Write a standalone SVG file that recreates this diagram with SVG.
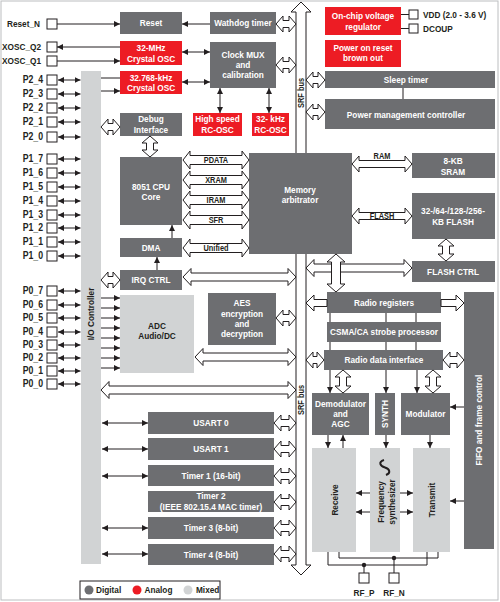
<svg xmlns="http://www.w3.org/2000/svg" width="500" height="602" viewBox="0 0 500 602">
<style>
text{font-family:"Liberation Sans",Arial,sans-serif;font-weight:bold;transform-box:fill-box;transform-origin:center;transform:scaleX(0.87)}
.w{fill:#fff;font-size:9.5px;text-anchor:middle}
.k{fill:#231f20;font-size:9.5px;text-anchor:middle}
.p{fill:#231f20;font-size:9.5px;text-anchor:end;transform-origin:right center}
.p2{font-size:10px}
.l{fill:#231f20;font-size:9.5px;text-anchor:start;transform-origin:left center}
.s{fill:#231f20;font-size:8.5px;text-anchor:middle}
.d{fill:#6d6e71}.r{fill:#ed1c24}.m{fill:#d1d3d4}
.ln{stroke:#231f20;stroke-width:1;fill:none}
.a{stroke:#231f20;stroke-width:1;fill:none;marker-end:url(#ah)}
.aa{stroke:#231f20;stroke-width:1;fill:none;marker-end:url(#ah);marker-start:url(#ah)}
.ha{fill:#fff;stroke:#231f20;stroke-width:1}
.pin{fill:#fff;stroke:#231f20;stroke-width:1}
</style>
<defs>
<marker id="ah" viewBox="0 0 10 10" refX="10" refY="5" markerWidth="6" markerHeight="6" markerUnits="userSpaceOnUse" orient="auto-start-reverse">
<path d="M0,0 L10,5 L0,10 Z" fill="#231f20"/>
</marker>
</defs>
<rect x="0" y="0" width="500" height="602" fill="#fff"/>
<rect x="1" y="1" width="497" height="599" fill="none" stroke="#bcbec0" stroke-width="1"/>

<g id="srf-bus">
<path class="ha" d="M301,2 L311,12 L306,12 L306,565 L311,565 L301,575 L291,565 L296,565 L296,12 L291,12 Z"/>
<g transform="translate(301,93) rotate(-90)"><text class="s" x="0" y="3">SRF bus</text></g>
<g transform="translate(301,400) rotate(-90)"><text class="s" x="0" y="3">SRF bus</text></g>
</g>

<g id="io-controller"><rect class="m" x="81" y="71" width="20" height="493"/><g transform="translate(91,314) rotate(-90)"><text class="k" x="0" y="3.4">I/O Controller</text></g></g>

<g id="pins">
<text class="p" x="40" y="27.5">Reset_N</text><rect class="pin" x="47" y="19" width="10" height="10"/>
<text class="p" x="41" y="50.5">XOSC_Q2</text><rect class="pin" x="47" y="42" width="10" height="10"/>
<text class="p" x="41" y="64.5">XOSC_Q1</text><rect class="pin" x="47" y="56" width="10" height="10"/>
<text class="p p2" x="43" y="83.5">P2_4</text><rect class="pin" x="47" y="75" width="10" height="10"/>
<text class="p p2" x="43" y="97.5">P2_3</text><rect class="pin" x="47" y="89" width="10" height="10"/>
<text class="p p2" x="43" y="111.5">P2_2</text><rect class="pin" x="47" y="103" width="10" height="10"/>
<text class="p p2" x="43" y="125.5">P2_1</text><rect class="pin" x="47" y="117" width="10" height="10"/>
<text class="p p2" x="43" y="140.5">P2_0</text><rect class="pin" x="47" y="132" width="10" height="10"/>
<text class="p p2" x="43" y="162.5">P1_7</text><rect class="pin" x="47" y="154" width="10" height="10"/>
<text class="p p2" x="43" y="176.5">P1_6</text><rect class="pin" x="47" y="168" width="10" height="10"/>
<text class="p p2" x="43" y="190.5">P1_5</text><rect class="pin" x="47" y="182" width="10" height="10"/>
<text class="p p2" x="43" y="204.5">P1_4</text><rect class="pin" x="47" y="196" width="10" height="10"/>
<text class="p p2" x="43" y="218.5">P1_3</text><rect class="pin" x="47" y="210" width="10" height="10"/>
<text class="p p2" x="43" y="231.5">P1_2</text><rect class="pin" x="47" y="223" width="10" height="10"/>
<text class="p p2" x="43" y="245.5">P1_1</text><rect class="pin" x="47" y="237" width="10" height="10"/>
<text class="p p2" x="43" y="259.5">P1_0</text><rect class="pin" x="47" y="251" width="10" height="10"/>
<text class="p p2" x="43" y="294.5">P0_7</text><rect class="pin" x="47" y="286" width="10" height="10"/>
<text class="p p2" x="43" y="308.5">P0_6</text><rect class="pin" x="47" y="300" width="10" height="10"/>
<text class="p p2" x="43" y="321.5">P0_5</text><rect class="pin" x="47" y="313" width="10" height="10"/>
<text class="p p2" x="43" y="335.5">P0_4</text><rect class="pin" x="47" y="327" width="10" height="10"/>
<text class="p p2" x="43" y="348.5">P0_3</text><rect class="pin" x="47" y="340" width="10" height="10"/>
<text class="p p2" x="43" y="361.5">P0_2</text><rect class="pin" x="47" y="353" width="10" height="10"/>
<text class="p p2" x="43" y="374.5">P0_1</text><rect class="pin" x="47" y="366" width="10" height="10"/>
<text class="p p2" x="43" y="387.5">P0_0</text><rect class="pin" x="47" y="379" width="10" height="10"/>
<rect class="pin" x="409" y="10" width="9" height="9"/><text class="l" x="423" y="18">VDD (2.0 - 3.6 V)</text>
<rect class="pin" x="409" y="24" width="9" height="9"/><text class="l" x="423" y="32">DCOUP</text>
<rect class="pin" x="359" y="573" width="10" height="10"/><text class="k" x="364" y="596">RF_P</text>
<rect class="pin" x="389" y="573" width="10" height="10"/><text class="k" x="394" y="596">RF_N</text>
</g>

<g id="reset"><rect class="d" x="120" y="12" width="62" height="22"/><text class="w" x="151" y="26.5">Reset</text></g>
<g id="watchdog"><rect class="d" x="210" y="12" width="66" height="22"/><text class="w" x="243" y="26.5">Wathdog timer</text></g>
<g id="xosc32m"><rect class="r" x="120" y="41" width="62" height="24"/><text class="w" x="151" y="51.5">32-MHz</text><text class="w" x="151" y="62">Crystal OSC</text></g>
<g id="xosc32k"><rect class="r" x="120" y="71" width="62" height="23"/><text class="w" x="151" y="80.9">32.768-kHz</text><text class="w" x="151" y="91.4">Crystal OSC</text></g>
<g id="clockmux"><rect class="d" x="210" y="42" width="66" height="46"/><text class="w" x="243" y="58.4">Clock MUX</text><text class="w" x="243" y="68.4">and</text><text class="w" x="243" y="78.4">calibration</text></g>
<g id="hsrc"><rect class="r" x="193" y="113" width="49" height="23"/><text class="w" x="217.5" y="122.4">High speed</text><text class="w" x="217.5" y="132.9">RC-OSC</text></g>
<g id="rc32k"><rect class="r" x="252" y="113" width="37" height="23"/><text class="w" x="270.5" y="122.4">32- kHz</text><text class="w" x="270.5" y="132.9">RC-OSC</text></g>
<g id="debug"><rect class="d" x="120" y="113" width="62" height="23"/><text class="w" x="151" y="122">Debug</text><text class="w" x="151" y="133">Interface</text></g>
<g id="vreg"><rect class="r" x="325" y="7" width="76" height="28"/><text class="w" x="363" y="19.4">On-chip voltage</text><text class="w" x="363" y="29.9">regulator</text></g>
<g id="por"><rect class="r" x="325" y="40" width="76" height="27"/><text class="w" x="363" y="51.4">Power on reset</text><text class="w" x="363" y="61.4">brown out</text></g>
<g id="sleep"><rect class="d" x="325" y="71" width="170" height="17"/><text class="w" x="406" y="83">Sleep timer</text></g>
<g id="pmc"><rect class="d" x="325" y="99" width="170" height="30"/><text class="w" x="406" y="118">Power management controller</text></g>
<g id="cpu"><rect class="d" x="120" y="157" width="62" height="68"/><text class="w" x="151" y="190.4">8051 CPU</text><text class="w" x="151" y="200.4">Core</text></g>
<g id="dma"><rect class="d" x="120" y="238" width="62" height="19"/><text class="w" x="151" y="251">DMA</text></g>
<g id="irq"><rect class="d" x="120" y="270" width="62" height="20"/><text class="w" x="151" y="283.4">IRQ CTRL</text></g>
<g id="memarb"><rect class="d" x="249" y="153" width="103" height="101"/><text class="w" x="300" y="193.4">Memory</text><text class="w" x="300" y="203.4">arbitrator</text></g>
<g id="sram"><rect class="d" x="412" y="153" width="83" height="25"/><text class="w" x="453" y="164.4">8-KB</text><text class="w" x="453" y="175">SRAM</text></g>
<g id="flash"><rect class="d" x="412" y="193" width="83" height="46"/><text class="w" x="453" y="214.4">32-/64-/128-/256-</text><text class="w" x="453" y="225">KB FLASH</text></g>
<g id="flashctrl"><rect class="d" x="412" y="261" width="83" height="21"/><text class="w" x="453" y="275">FLASH CTRL</text></g>
<g id="adc"><rect class="m" x="120" y="295" width="74" height="78"/><text class="k" x="157" y="329">ADC</text><text class="k" x="157" y="339.5">Audio/DC</text></g>
<g id="aes"><rect class="d" x="208" y="293" width="68" height="52"/><text class="w" x="242" y="306.4">AES</text><text class="w" x="242" y="316.6">encryption</text><text class="w" x="242" y="327">and</text><text class="w" x="242" y="337.2">decryption</text></g>
<g id="radioregs"><rect class="d" x="327" y="292" width="114" height="21"/><text class="w" x="384" y="306.2">Radio registers</text></g>
<g id="csma"><rect class="d" x="327" y="322" width="114" height="20"/><text class="w" x="384" y="335.4">CSMA/CA strobe processor</text></g>
<g id="rdi"><rect class="d" x="324" y="350" width="119" height="20"/><text class="w" x="384" y="363.4">Radio data interface</text></g>
<g id="demod"><rect class="d" x="312" y="393" width="57" height="42"/><text class="w" x="340.5" y="407.4">Demodulator</text><text class="w" x="340.5" y="417.4">and</text><text class="w" x="340.5" y="427.4">AGC</text></g>
<g id="synth"><rect class="d" x="375" y="393" width="20" height="42"/><g transform="translate(385,414) rotate(-90)"><text class="w" x="0" y="3.4">SYNTH</text></g></g>
<g id="modulator"><rect class="d" x="401" y="393" width="49" height="42"/><text class="w" x="425.5" y="417.4">Modulator</text></g>
<g id="fifo"><rect class="d" x="464" y="292" width="30" height="257"/><g transform="translate(479,420) rotate(-90)"><text class="w" x="0" y="3.4">FIFO and frame control</text></g></g>
<g id="receive"><rect class="m" x="312" y="448" width="44" height="104"/><g transform="translate(335,500) rotate(-90)"><text class="k" x="0" y="3.4">Receive</text></g></g>
<g id="freqsynth"><rect class="m" x="370" y="448" width="30" height="104"/><path d="M384,460 C378,462 380,466 385,467.5 C390,469 391,473 386,475" fill="none" stroke="#231f20" stroke-width="2"/><g transform="translate(381,502) rotate(-90)"><text class="k" x="0" y="3.4">Frequency</text></g><g transform="translate(392,502) rotate(-90)"><text class="k" x="0" y="3.4">synthesizer</text></g></g>
<g id="transmit"><rect class="m" x="413" y="448" width="37" height="104"/><g transform="translate(432,500) rotate(-90)"><text class="k" x="0" y="3.4">Transmit</text></g></g>
<g id="usart0"><rect class="d" x="148" y="412" width="126" height="22"/><text class="w" x="211" y="426.4">USART 0</text></g>
<g id="usart1"><rect class="d" x="148" y="438" width="126" height="22"/><text class="w" x="211" y="452.4">USART 1</text></g>
<g id="timer1"><rect class="d" x="148" y="465" width="126" height="21"/><text class="w" x="211" y="478.9">Timer 1 (16-bit)</text></g>
<g id="timer2"><rect class="d" x="148" y="491" width="126" height="21"/><text class="w" x="211" y="499.2">Timer 2</text><text class="w" x="211" y="509.6">(IEEE 802.15.4 MAC timer)</text></g>
<g id="timer3"><rect class="d" x="148" y="517" width="126" height="22"/><text class="w" x="211" y="531.4">Timer 3 (8-bit)</text></g>
<g id="timer4"><rect class="d" x="148" y="544" width="126" height="21"/><text class="w" x="211" y="557.9">Timer 4 (8-bit)</text></g>

<g id="connectors">
<line class="a" x1="57" y1="24" x2="120" y2="24"/>
<line class="a" x1="210" y1="24" x2="182" y2="24"/>
<line class="a" x1="120" y1="47" x2="57" y2="47"/>
<line class="a" x1="57" y1="61" x2="120" y2="61"/>
<line class="ln" x1="101" y1="78" x2="120" y2="78"/>
<line class="a" x1="101" y1="91" x2="120" y2="91"/>
<line class="aa" x1="182" y1="52" x2="210" y2="52"/>
<line class="aa" x1="182" y1="82" x2="210" y2="82"/>
<line class="aa" x1="220" y1="88" x2="220" y2="113"/>
<line class="aa" x1="269" y1="88" x2="269" y2="113"/>
<line class="ln" x1="401" y1="14.5" x2="409" y2="14.5"/>
<line class="ln" x1="401" y1="28.5" x2="409" y2="28.5"/>
<line class="ln" x1="403" y1="88" x2="403" y2="99"/>
<g>
<line class="aa" x1="58" y1="80" x2="80.5" y2="80"/>
<line class="aa" x1="58" y1="94" x2="80.5" y2="94"/>
<line class="aa" x1="58" y1="108" x2="80.5" y2="108"/>
<line class="aa" x1="58" y1="122" x2="80.5" y2="122"/>
<line class="aa" x1="58" y1="137" x2="80.5" y2="137"/>
<line class="aa" x1="58" y1="159" x2="80.5" y2="159"/>
<line class="aa" x1="58" y1="173" x2="80.5" y2="173"/>
<line class="aa" x1="58" y1="187" x2="80.5" y2="187"/>
<line class="aa" x1="58" y1="201" x2="80.5" y2="201"/>
<line class="aa" x1="58" y1="215" x2="80.5" y2="215"/>
<line class="aa" x1="58" y1="228" x2="80.5" y2="228"/>
<line class="aa" x1="58" y1="242" x2="80.5" y2="242"/>
<line class="aa" x1="58" y1="256" x2="80.5" y2="256"/>
<line class="aa" x1="58" y1="291" x2="80.5" y2="291"/>
<line class="aa" x1="58" y1="305" x2="80.5" y2="305"/>
<line class="aa" x1="58" y1="318" x2="80.5" y2="318"/>
<line class="aa" x1="58" y1="332" x2="80.5" y2="332"/>
<line class="aa" x1="58" y1="345" x2="80.5" y2="345"/>
<line class="aa" x1="58" y1="358" x2="80.5" y2="358"/>
<line class="aa" x1="58" y1="371" x2="80.5" y2="371"/>
<line class="aa" x1="58" y1="384" x2="80.5" y2="384"/>
</g>
<line class="a" x1="157" y1="270" x2="157" y2="257"/>
<line class="a" x1="172" y1="238" x2="172" y2="225"/>
<g>
<line class="a" x1="101" y1="298" x2="120" y2="298"/>
<line class="a" x1="101" y1="308" x2="120" y2="308"/>
<line class="a" x1="101" y1="318" x2="120" y2="318"/>
<line class="a" x1="101" y1="328" x2="120" y2="328"/>
<line class="a" x1="101" y1="338" x2="120" y2="338"/>
<line class="a" x1="101" y1="348" x2="120" y2="348"/>
<line class="a" x1="101" y1="358" x2="120" y2="358"/>
<line class="a" x1="101" y1="368" x2="120" y2="368"/>
</g>
<line class="aa" x1="102" y1="423" x2="148" y2="423"/>
<line class="aa" x1="102" y1="449" x2="148" y2="449"/>
<line class="aa" x1="102" y1="476" x2="148" y2="476"/>
<line class="aa" x1="102" y1="528" x2="148" y2="528"/>
<line class="aa" x1="102" y1="554" x2="148" y2="554"/>
<line class="ln" x1="330" y1="313" x2="330" y2="322"/>
<line class="ln" x1="386" y1="313" x2="386" y2="322"/>
<line class="ln" x1="416" y1="313" x2="416" y2="322"/>
<line class="ln" x1="330" y1="342" x2="330" y2="350"/>
<line class="ln" x1="386" y1="342" x2="386" y2="350"/>
<line class="ln" x1="416" y1="342" x2="416" y2="350"/>
<line class="a" x1="330" y1="370" x2="330" y2="393"/>
<line class="a" x1="386" y1="370" x2="386" y2="393"/>
<line class="a" x1="417" y1="370" x2="417" y2="393"/>
<line class="a" x1="464" y1="407" x2="450" y2="407"/>
<line class="a" x1="328" y1="435" x2="328" y2="448"/>
<line class="a" x1="343" y1="448" x2="343" y2="435"/>
<line class="a" x1="386" y1="435" x2="386" y2="448"/>
<line class="a" x1="430" y1="435" x2="430" y2="448"/>
<line class="a" x1="370" y1="493" x2="356" y2="493"/>
<line class="a" x1="370" y1="512" x2="356" y2="512"/>
<line class="a" x1="400" y1="493" x2="413" y2="493"/>
<line class="a" x1="400" y1="512" x2="413" y2="512"/>
<line class="a" x1="464" y1="501" x2="450" y2="501"/>
<path class="ln" d="M328,552 L328,565 L427,565 L427,552"/>
<path class="ln" d="M339,552 L339,558 L438,558 L438,552"/>
<line class="ln" x1="364" y1="565" x2="364" y2="573"/>
<line class="ln" x1="394" y1="558" x2="394" y2="573"/>
<circle cx="364" cy="565" r="2.2" fill="#231f20"/>
<circle cx="394" cy="558" r="2.2" fill="#231f20"/>

<path class="ha" d="M276,24 L283,16 L283,20.5 L289,20.5 L289,16 L296,24 L289,32 L289,27.5 L283,27.5 L283,32 Z"/>
<path class="ha" d="M276,65 L283,57 L283,61.5 L289,61.5 L289,57 L296,65 L289,73 L289,68.5 L283,68.5 L283,73 Z"/>
<path class="ha" d="M306,80 L313,72 L313,76.5 L318,76.5 L318,72 L325,80 L318,88 L318,83.5 L313,83.5 L313,88 Z"/>
<path class="ha" d="M306,112 L313,104 L313,108.5 L318,108.5 L318,104 L325,112 L318,120 L318,115.5 L313,115.5 L313,120 Z"/>
<path class="ha" d="M101,127 L108,119 L108,123.5 L113,123.5 L113,119 L120,127 L113,135 L113,130.5 L108,130.5 L108,135 Z"/>
<path class="ha" d="M101,280 L108,272 L108,276.5 L113,276.5 L113,272 L120,280 L113,288 L113,283.5 L108,283.5 L108,288 Z"/>
<path class="ha" d="M276,318 L283,310 L283,314.5 L289,314.5 L289,310 L296,318 L289,326 L289,321.5 L283,321.5 L283,326 Z"/>
<path class="ha" d="M306,360 L313,352 L313,356.5 L317,356.5 L317,352 L324,360 L317,368 L317,363.5 L313,363.5 L313,368 Z"/>
<path class="ha" d="M443,360 L450,352 L450,356.5 L457,356.5 L457,352 L464,360 L457,368 L457,363.5 L450,363.5 L450,368 Z"/>
<path class="ha" d="M274,423 L281,415 L281,419.5 L289,419.5 L289,415 L296,423 L289,431 L289,426.5 L281,426.5 L281,431 Z"/>
<path class="ha" d="M274,449 L281,441 L281,445.5 L289,445.5 L289,441 L296,449 L289,457 L289,452.5 L281,452.5 L281,457 Z"/>
<path class="ha" d="M274,476 L281,468 L281,472.5 L289,472.5 L289,468 L296,476 L289,484 L289,479.5 L281,479.5 L281,484 Z"/>
<path class="ha" d="M274,502 L281,494 L281,498.5 L289,498.5 L289,494 L296,502 L289,510 L289,505.5 L281,505.5 L281,510 Z"/>
<path class="ha" d="M274,528 L281,520 L281,524.5 L289,524.5 L289,520 L296,528 L289,536 L289,531.5 L281,531.5 L281,536 Z"/>
<path class="ha" d="M274,554 L281,546 L281,550.5 L289,550.5 L289,546 L296,554 L289,562 L289,557.5 L281,557.5 L281,562 Z"/>
<path class="ha" d="M183,277 L191,268.5 L191,273 L288,273 L288,268.5 L296,277 L288,285.5 L288,281 L191,281 L191,285.5 Z"/>
<path class="ha" d="M195,357 L203,348.5 L203,353 L288,353 L288,348.5 L296,357 L288,365.5 L288,361 L203,361 L203,365.5 Z"/>
<path class="ha" d="M101,390 L109,381.5 L109,386 L288,386 L288,381.5 L296,390 L288,398.5 L288,394 L109,394 L109,398.5 Z"/>
<path class="ha" d="M306,268 L314,259.5 L314,264 L404,264 L404,259.5 L412,268 L404,276.5 L404,272 L314,272 L314,276.5 Z"/>
<path class="ha" d="M306,303 L314,295 L314,299.5 L327,299.5 L327,306.5 L314,306.5 L314,311 Z"/>
<path class="ha" d="M441,299.5 L456,299.5 L456,295 L464,303 L456,311 L456,306.5 L441,306.5 Z"/>
<path class="ha" d="M150,136 L158,143 L153.5,143 L153.5,150 L158,150 L150,157 L142,150 L146.5,150 L146.5,143 L142,143 Z"/>
<path class="ha" d="M446,239 L454,246 L449.5,246 L449.5,254 L454,254 L446,261 L438,254 L442.5,254 L442.5,246 L438,246 Z"/>
<path class="ha" d="M336,254 L345,262 L340.5,262 L340.5,284 L345,284 L336,292 L327,284 L331.5,284 L331.5,262 L327,262 Z"/>
<path class="ha" d="M343,370 L351,377 L346.5,377 L346.5,386 L351,386 L343,393 L335,386 L339.5,386 L339.5,377 L335,377 Z"/>
<path class="ha" d="M433,370 L441,377 L436.5,377 L436.5,386 L441,386 L433,393 L425,386 L429.5,386 L429.5,377 L425,377 Z"/>
<path class="ha" d="M183,160 L190,151 L190,155.5 L242,155.5 L242,151 L249,160 L242,169 L242,164.5 L190,164.5 L190,169 Z"/>
<path class="ha" d="M183,180 L190,171 L190,175.5 L242,175.5 L242,171 L249,180 L242,189 L242,184.5 L190,184.5 L190,189 Z"/>
<path class="ha" d="M183,200 L190,191 L190,195.5 L242,195.5 L242,191 L249,200 L242,209 L242,204.5 L190,204.5 L190,209 Z"/>
<path class="ha" d="M183,220 L190,211 L190,215.5 L242,215.5 L242,211 L249,220 L242,229 L242,224.5 L190,224.5 L190,229 Z"/>
<path class="ha" d="M183,248 L190,239 L190,243.5 L242,243.5 L242,239 L249,248 L242,257 L242,252.5 L190,252.5 L190,257 Z"/>
<path class="ha" d="M352,164 L359,156 L359,160.5 L405,160.5 L405,156 L412,164 L405,172 L405,167.5 L359,167.5 L359,172 Z"/>
<path class="ha" d="M352,216 L359,208 L359,212.5 L405,212.5 L405,208 L412,216 L405,224 L405,219.5 L359,219.5 L359,224 Z"/>
<text class="s" x="216" y="163.5">PDATA</text>
<text class="s" x="216" y="183.5">XRAM</text>
<text class="s" x="216" y="203.5">IRAM</text>
<text class="s" x="216" y="223.5">SFR</text>
<text class="s" x="216" y="251.5">Unified</text>
<text class="s" x="382" y="159.5">RAM</text>
<text class="s" x="382" y="219">FLASH</text>
</g>

<g id="legend">
<rect x="80" y="581" width="140" height="18" fill="#fff" stroke="#231f20" stroke-width="1"/>
<circle cx="89" cy="590" r="4.5" fill="#6d6e71"/><text class="l" x="96" y="593.5">Digital</text>
<circle cx="137" cy="590" r="4.5" fill="#ed1c24"/><text class="l" x="144.5" y="593.5">Analog</text>
<circle cx="188" cy="590" r="4.5" fill="#d1d3d4"/><text class="l" x="196" y="593.5">Mixed</text>
</g>
</svg>
